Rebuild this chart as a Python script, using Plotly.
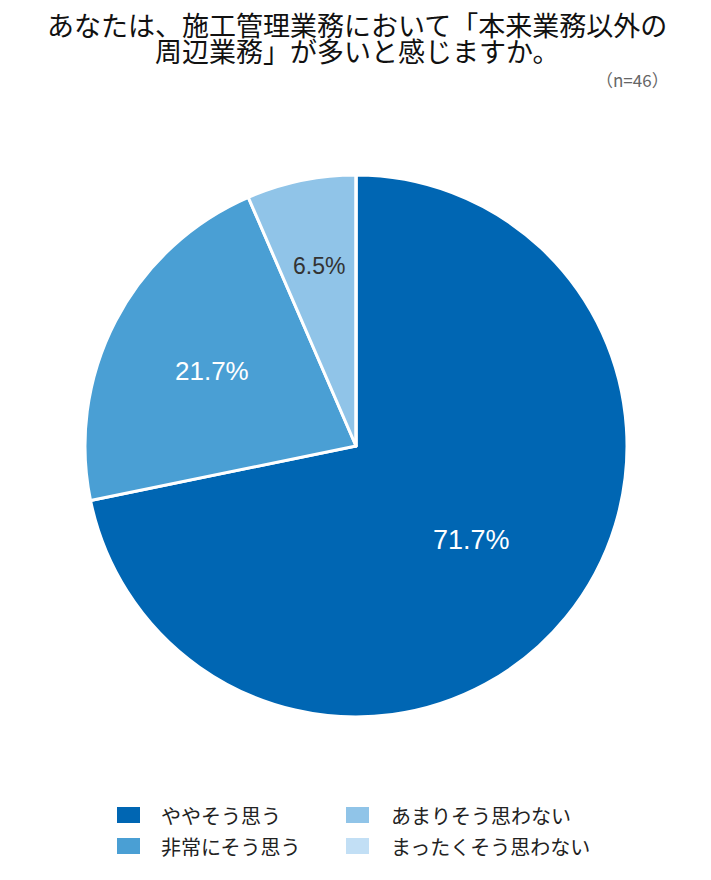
import math
import plotly.graph_objects as go

labels = ["ややそう思う", "非常にそう思う", "あまりそう思わない", "まったくそう思わない"]
values = [71.7, 21.7, 6.5, 0.0]
colors = ["#0066b3", "#4a9fd4", "#90c4e8", "#c2dff5"]
text_colors = ["#ffffff", "#ffffff", "#333333", "#333333"]
label_sizes = [27, 26, 23]
label_radius = [0.55, 0.60, 0.68]
title_lines = ["あなたは、施工管理業務において「本来業務以外の", "周辺業務」が多いと感じますか。"]
sample_note = "（n=46）"

FONT = "Noto Sans CJK JP"
NUMFONT = "Liberation Sans"
W, H = 711, 880
OFF = 8  # page body margin


def px(x):
    return (x - OFF) / W


def py(y):
    return 1 - (y - OFF) / H


CX, CY, R = 356, 446, 271

fig = go.Figure()
fig.add_trace(go.Pie(
    labels=labels,
    values=values,
    sort=False,
    direction="clockwise",
    rotation=0,
    marker=dict(colors=colors, line=dict(color="#ffffff", width=3)),
    textinfo="none",
    showlegend=False,
    hoverinfo="label+percent",
    domain=dict(x=[px(CX - R), px(CX + R)], y=[py(CY + R), py(CY - R)]),
))

annotations = [
    dict(text=title_lines[0], x=px(357), y=py(24), xref="paper", yref="paper",
         xanchor="center", yanchor="middle", showarrow=False,
         font=dict(family=FONT, size=27, color="#111111")),
    dict(text=title_lines[1], x=px(357), y=py(50), xref="paper", yref="paper",
         xanchor="center", yanchor="middle", showarrow=False,
         font=dict(family=FONT, size=27, color="#111111")),
    dict(text=sample_note, x=px(671), y=py(80), xref="paper", yref="paper",
         xanchor="right", yanchor="middle", showarrow=False,
         font=dict(family=FONT, size=17, color="#666666")),
]

# slice percentage labels placed along each slice's bisector
total = sum(values)
cum = 0.0
for i, v in enumerate(values):
    if v <= 0:
        continue
    mid = (cum + v / 2) / total * 2 * math.pi
    cum += v
    rr = label_radius[i] * R
    lx = CX + rr * math.sin(mid)
    ly = CY - rr * math.cos(mid)
    annotations.append(dict(text=f"{v:.1f}%", x=px(lx), y=py(ly), xref="paper", yref="paper",
                            xanchor="center", yanchor="middle", showarrow=False,
                            font=dict(family=NUMFONT, size=label_sizes[i], color=text_colors[i])))

shapes = []
# legend: two columns
col_sq_x = [117, 346]
col_tx_x = [159, 389]
row_y = [815, 846]
for i, (lab, col) in enumerate(zip(labels, colors)):
    c = i // 2
    r = i % 2
    x0 = col_sq_x[c]
    yc = row_y[r]
    shapes.append(dict(type="rect", xref="paper", yref="paper",
                       x0=px(x0), x1=px(x0 + 23), y0=py(yc + 8), y1=py(yc - 8),
                       fillcolor=col, line=dict(width=0)))
    annotations.append(dict(text=lab, x=px(col_tx_x[c]), y=py(yc), xref="paper", yref="paper",
                            xanchor="left", yanchor="middle", showarrow=False,
                            font=dict(family=FONT, size=20, color="#222222")))

fig.update_layout(
    width=W, height=H,
    margin=dict(l=0, r=0, t=0, b=0),
    paper_bgcolor="#ffffff",
    plot_bgcolor="#ffffff",
    annotations=annotations,
    shapes=shapes,
)

fig.write_html("out.html")
